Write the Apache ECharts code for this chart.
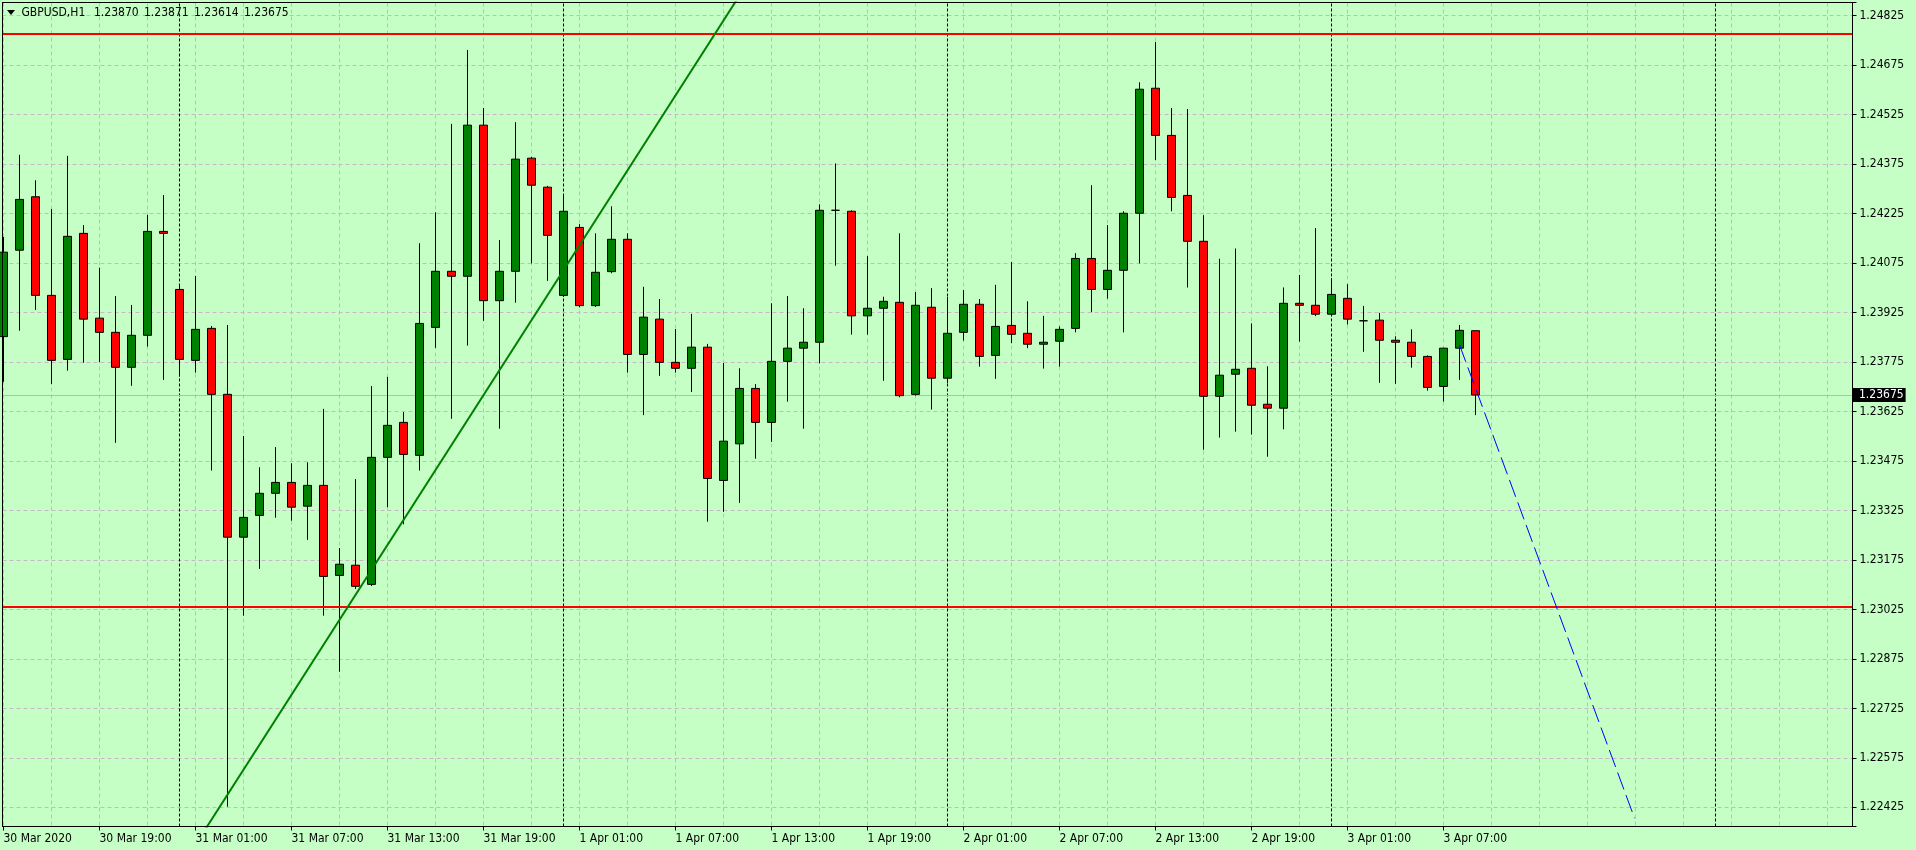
<!DOCTYPE html>
<html>
<head>
<meta charset="utf-8">
<script src="https://cdn.jsdelivr.net/npm/echarts@6/dist/echarts.min.js"></script>
<style>
html,body{margin:0;padding:0;background:#c5ffc5;}
#c{width:1916px;height:850px;}
</style>
</head>
<body>
<div id="c"></div>
<script>
// ---------------- data ----------------
const symbolName = 'GBPUSD,H1';
const timeLabels = ['30 Mar 2020','30 Mar 19:00','31 Mar 01:00','31 Mar 07:00','31 Mar 13:00','31 Mar 19:00',
  '1 Apr 01:00','1 Apr 07:00','1 Apr 13:00','1 Apr 19:00','2 Apr 01:00','2 Apr 07:00','2 Apr 13:00',
  '2 Apr 19:00','3 Apr 01:00','3 Apr 07:00'];
const labelStep = 6;   // one time label every 6 hourly bars
const yTickLabels = ['1.22425','1.22575','1.22725','1.22875','1.23025','1.23175','1.23325','1.23475',
  '1.23625','1.23775','1.23925','1.24075','1.24225','1.24375','1.24525','1.24675','1.24825'];

const opens = [1.23852,1.24114,1.24276,1.23977,1.23783,1.24165,1.23908,1.23865,1.23759,1.23856,
  1.24171,1.23995,1.23780,1.23877,1.23677,1.23244,1.23310,1.23377,1.23410,1.23338,
  1.23401,1.23128,1.23159,1.23101,1.23486,1.23592,1.23492,1.23880,1.24050,1.24035,
  1.24493,1.23961,1.24050,1.24393,1.24305,1.23977,1.24183,1.23946,1.24049,1.24147,
  1.23798,1.23905,1.23774,1.23756,1.23820,1.23416,1.23527,1.23695,1.23592,1.23777,
  1.23817,1.23835,1.24235,1.24232,1.23915,1.23938,1.23956,1.23677,1.23941,1.23726,
  1.23865,1.23950,1.23795,1.23886,1.23862,1.23829,1.23838,1.23877,1.24089,1.23995,
  1.24053,1.24226,1.24605,1.24462,1.24280,1.24141,1.23671,1.23738,1.23756,1.23647,
  1.23635,1.23953,1.23947,1.23920,1.23968,1.23900,1.23902,1.23841,1.23835,1.23792,
  1.23701,1.23817,1.23870];
const highs = [1.24154,1.24403,1.24326,1.24239,1.24400,1.24190,1.24061,1.23975,1.23948,1.24221,
  1.24281,1.24006,1.24036,1.23884,1.23887,1.23551,1.23456,1.23517,1.23468,1.23471,
  1.23633,1.23211,1.23420,1.23702,1.23730,1.23623,1.24135,1.24229,1.24497,1.24721,
  1.24545,1.24145,1.24502,1.24397,1.24309,1.24283,1.24193,1.24165,1.24247,1.24165,
  1.24003,1.23966,1.23875,1.23921,1.23830,1.23772,1.23756,1.23708,1.23953,1.23975,
  1.23938,1.24253,1.24377,1.24235,1.24096,1.23973,1.24165,1.23987,1.23999,1.23972,
  1.23993,1.23966,1.24009,1.24078,1.23959,1.23915,1.23883,1.24105,1.24311,1.24190,
  1.24232,1.24623,1.24745,1.24545,1.24542,1.24220,1.24088,1.24119,1.23892,1.23762,
  1.24001,1.24039,1.24181,1.24029,1.24011,1.23945,1.23924,1.23853,1.23874,1.23795,
  1.23818,1.23887,1.23871];
const lows = [1.23715,1.23870,1.23933,1.23708,1.23749,1.23773,1.23775,1.23530,1.23703,1.23822,
  1.23721,1.23731,1.23743,1.23446,1.22427,1.23006,1.23148,1.23303,1.23294,1.23236,
  1.23006,1.22836,1.23087,1.23096,1.23335,1.23283,1.23446,1.23818,1.23603,1.23825,
  1.23900,1.23573,1.23955,1.24074,1.24021,1.23972,1.23941,1.23942,1.24044,1.23743,
  1.23614,1.23733,1.23743,1.23684,1.23291,1.23321,1.23348,1.23482,1.23533,1.23655,
  1.23573,1.23771,1.24067,1.23858,1.23858,1.23718,1.23668,1.23673,1.23631,1.23711,
  1.23840,1.23761,1.23724,1.23832,1.23817,1.23755,1.23761,1.23865,1.23926,1.23967,
  1.23865,1.24074,1.24387,1.24232,1.24001,1.23509,1.23546,1.23564,1.23555,1.23488,
  1.23571,1.23837,1.23914,1.23914,1.23889,1.23806,1.23712,1.23709,1.23758,1.23688,
  1.23655,1.23721,1.23614];
const closes = [1.24108,1.24268,1.23977,1.23780,1.24156,1.23905,1.23865,1.23759,1.23856,1.24171,
  1.24165,1.23783,1.23874,1.23677,1.23244,1.23304,1.23377,1.23410,1.23335,1.23401,
  1.23125,1.23162,1.23095,1.23486,1.23583,1.23495,1.23892,1.24050,1.24035,1.24493,
  1.23961,1.24050,1.24390,1.24311,1.24159,1.24232,1.23946,1.24047,1.24147,1.23798,
  1.23911,1.23774,1.23756,1.23820,1.23422,1.23535,1.23695,1.23592,1.23777,1.23817,
  1.23835,1.24235,1.24235,1.23915,1.23938,1.23959,1.23673,1.23947,1.23726,1.23862,
  1.23950,1.23792,1.23883,1.23859,1.23829,1.23835,1.23874,1.24089,1.23995,1.24053,
  1.24226,1.24602,1.24462,1.24274,1.24141,1.23671,1.23735,1.23753,1.23644,1.23635,
  1.23953,1.23947,1.23920,1.23980,1.23905,1.23900,1.23841,1.23835,1.23792,1.23698,
  1.23817,1.23871,1.23675];

const levelLines = [1.24770, 1.23033];          // red horizontal lines
const bidPrice = 1.23675;                         // current price line
const daySeparators = [11, 35, 59, 83, 107];      // bar index of each day start
const trendGreen = [[12, 1.22312], [46, 1.24886]];
const trendBlue = [[91, 1.23827], [101.94, 1.22392]];

// ---------------- chart ----------------
const FONT = "'DejaVu Sans Condensed', 'Liberation Sans', sans-serif";
const BG = '#c5ffc5';
const GRIDC = '#c9b6c9';
const P0 = parseFloat(yTickLabels[0]);
const PIP = 10000;
const TICK_PIPS = Math.round((parseFloat(yTickLabels[1]) - P0) * PIP);
const toV = p => +((p - P0) * PIP).toFixed(3);

const candleData = opens.map((o, i) => [i, toV(o), toV(closes[i]), toV(lows[i]), toV(highs[i])]);
const labelBars = timeLabels.map((_, i) => i * labelStep);

const X_MIN = -0.0625, X_MAX = 115.5625;
const Y_MIN = -5.81, Y_MAX = 243.99;

const last = opens.length - 1;
const ohlcText = [opens[last], highs[last], lows[last], closes[last]].map(v => v.toFixed(5));

const chart = echarts.init(document.getElementById('c'), null, {renderer: 'canvas'});
chart.setOption({
  animation: false,
  backgroundColor: BG,
  grid: {left: 2.5, right: 63.5, top: 2.5, bottom: 23.5, show: true, borderColor: '#000', borderWidth: 1, backgroundColor: 'transparent'},
  graphic: [
    {type: 'polygon', shape: {points: [[7, 10], [15, 10], [11, 15]]}, style: {fill: '#000'}, z: 100},
    {type: 'text', x: 21.5, y: 13, style: {text: symbolName, font: '12px ' + FONT, fill: '#000', textVerticalAlign: 'middle'}, z: 100},
    {type: 'text', x: 94, y: 13, style: {text: ohlcText[0], font: '12px ' + FONT, fill: '#000', textVerticalAlign: 'middle'}, z: 100},
    {type: 'text', x: 144, y: 13, style: {text: ohlcText[1], font: '12px ' + FONT, fill: '#000', textVerticalAlign: 'middle'}, z: 100},
    {type: 'text', x: 194, y: 13, style: {text: ohlcText[2], font: '12px ' + FONT, fill: '#000', textVerticalAlign: 'middle'}, z: 100},
    {type: 'text', x: 244, y: 13, style: {text: ohlcText[3], font: '12px ' + FONT, fill: '#000', textVerticalAlign: 'middle'}, z: 100},
    // plot frame on top of the grid lines
    {type: 'rect', shape: {x: 2.5, y: 2.5, width: 1850, height: 824}, style: {fill: 'none', stroke: '#000', lineWidth: 1}, z: 50, silent: true}
  ],
  xAxis: [
    {
      type: 'value', position: 'bottom', min: X_MIN, max: X_MAX, minInterval: 3, maxInterval: 3,
      axisLine: {show: true, onZero: false, lineStyle: {color: '#000', width: 1}},
      axisTick: {show: false}, axisLabel: {show: false},
      splitLine: {show: true, showMinLine: false, showMaxLine: false, lineStyle: {color: GRIDC, width: 1, type: [4, 3]}}
    },
    {
      type: 'value', position: 'bottom', min: X_MIN, max: X_MAX, minInterval: labelStep, maxInterval: labelStep,
      axisLine: {show: false, onZero: false},
      axisTick: {show: true, length: 4, lineStyle: {color: '#000'}, customValues: labelBars},
      splitLine: {show: false},
      axisLabel: {
        show: true, customValues: labelBars, align: 'left', margin: 6, color: '#000', fontSize: 12, fontFamily: FONT,
        formatter: v => {
          const i = Math.round(v / labelStep);
          return (Math.abs(v - i * labelStep) < 1e-6 && i >= 0 && i < timeLabels.length) ? timeLabels[i] : '';
        }
      }
    }
  ],
  yAxis: {
    type: 'value', position: 'right', min: Y_MIN, max: Y_MAX, minInterval: TICK_PIPS, maxInterval: TICK_PIPS,
    axisLine: {show: true, onZero: false, lineStyle: {color: '#000', width: 1}},
    axisTick: {show: true, length: 4, lineStyle: {color: '#000'}},
    splitLine: {show: true, showMinLine: false, showMaxLine: false, lineStyle: {color: GRIDC, width: 1, type: [4, 3]}},
    axisLabel: {
      show: true, margin: 7, color: '#000', fontSize: 12, fontFamily: FONT, align: 'left',
      formatter: v => {
        const i = Math.round(v / TICK_PIPS);
        return (Math.abs(v - i * TICK_PIPS) < 1e-6 && i >= 0 && i < yTickLabels.length) ? yTickLabels[i] : '';
      }
    }
  },
  series: [
    {
      type: 'line', data: [], z: 1, silent: true,
      markLine: {
        z: 1, silent: true, symbol: ['none', 'none'], animation: false,
        label: {show: false},
        data: daySeparators.map(k => ({xAxis: k, lineStyle: {color: '#000', width: 1, type: [3, 2]}})).concat([
          {yAxis: toV(bidPrice), lineStyle: {color: '#b9b9b9', width: 1, type: 'solid'},
           label: {show: true, position: 'end', distance: 0.5, formatter: bidPrice.toFixed(5), color: '#fff',
                   backgroundColor: '#000', padding: [1, 2, 1, 6], lineHeight: 12, fontSize: 12, fontFamily: FONT}}
        ])
      }
    },
    {
      type: 'candlestick', z: 2, xAxisIndex: 0, yAxisIndex: 0,
      data: candleData, encode: {x: 0, y: [1, 2, 3, 4]},
      barWidth: 9, clip: true,
      itemStyle: {color: '#008000', color0: '#ff0000', borderColor: '#000', borderColor0: '#000', borderColorDoji: '#000', borderWidth: 1}
    },
    {
      type: 'line', data: [], z: 3, silent: true,
      markLine: {
        z: 3, silent: true, symbol: ['none', 'none'], animation: false, label: {show: false},
        data: levelLines.map(p => ({yAxis: toV(p), lineStyle: {color: '#ff0000', width: 2, type: 'solid'}}))
      }
    },
    {
      type: 'line', z: 3, silent: true, clip: true, symbol: 'none',
      data: trendGreen.map(d => [d[0], toV(d[1])]),
      lineStyle: {color: '#008000', width: 2}
    },
    {
      type: 'line', z: 3, silent: true, clip: true, symbol: 'none',
      data: trendBlue.map(d => [d[0], toV(d[1])]),
      lineStyle: {color: '#0000ff', width: 1, type: [18, 6]}
    }
  ]
});
</script>
</body>
</html>
